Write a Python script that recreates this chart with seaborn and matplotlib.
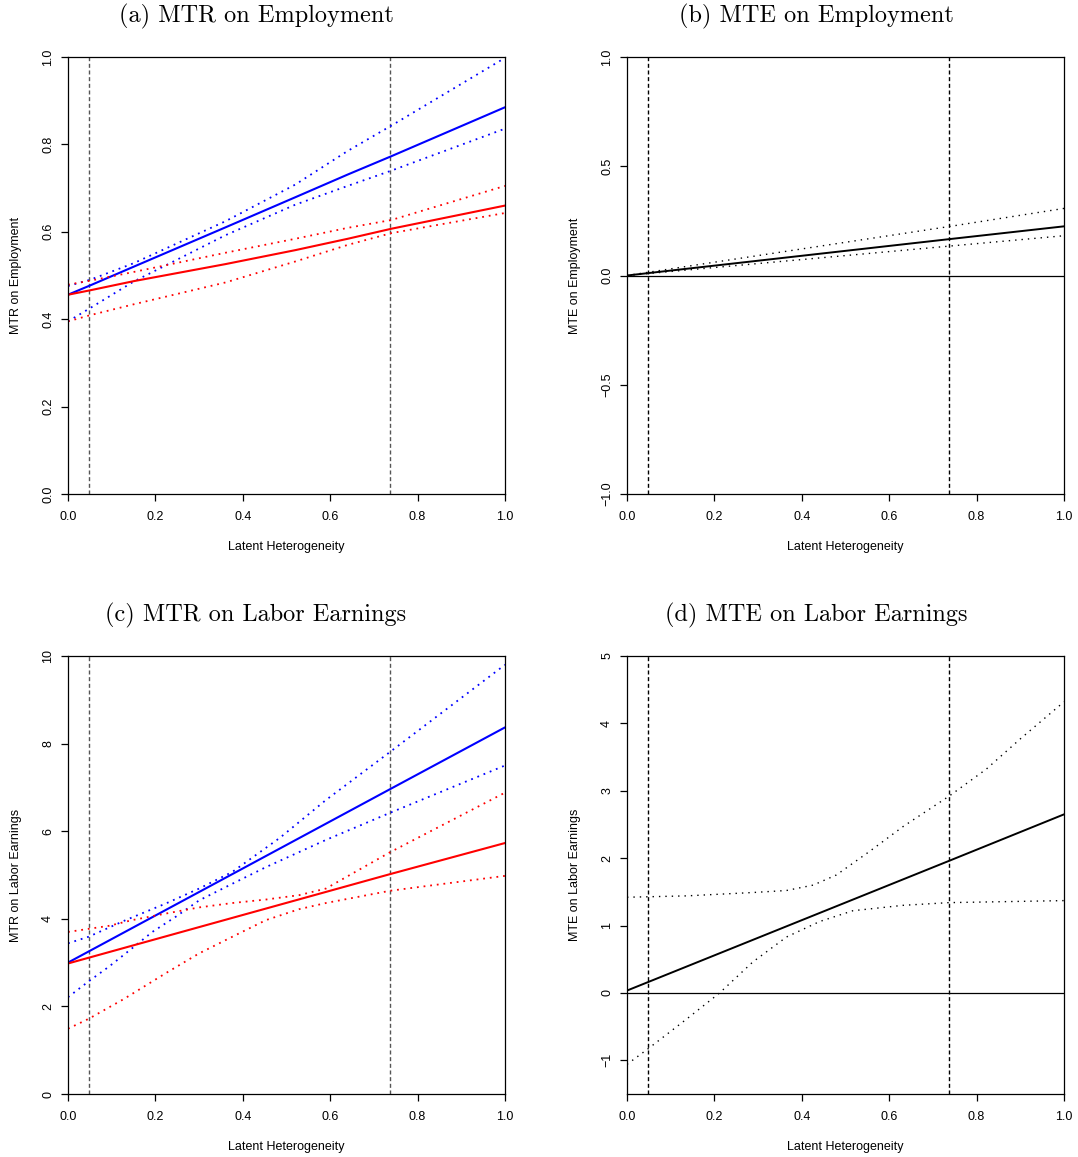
import matplotlib
matplotlib.use("Agg")
import matplotlib.pyplot as plt
import seaborn as sns

# Werte (Latent Heterogeneity u in [0, 1])
cutoffs = [0.048, 0.737]

# (a) MTR on Employment: blau = behandelt, rot = unbehandelt
emp_x = [0.0, 0.05, 0.15, 0.36, 0.52, 0.64, 0.74, 1.0]
emp_blue = [0.456, 0.477, 0.520, 0.610, 0.679, 0.731, 0.773, 0.885]
emp_blue_hi = [0.476, 0.490, 0.528, 0.624, 0.708, 0.785, 0.843, 0.998]
emp_blue_lo = [0.395, 0.425, 0.486, 0.592, 0.662, 0.705, 0.740, 0.836]
emp_red = [0.456, 0.466, 0.487, 0.526, 0.558, 0.584, 0.607, 0.660]
emp_red_hi = [0.479, 0.488, 0.508, 0.552, 0.584, 0.609, 0.627, 0.705]
emp_red_lo = [0.395, 0.409, 0.434, 0.484, 0.532, 0.570, 0.597, 0.643]

# (b) MTE on Employment
mte_emp_x = [0.0, 0.74, 1.0]
mte_emp = [0.0, 0.167, 0.225]
mte_emp_hi = [0.0, 0.225, 0.307]
mte_emp_lo = [0.0, 0.135, 0.182]

# (c) MTR on Labor Earnings
earn_blue_x = [0.0, 0.737, 1.0]
earn_blue = [3.0, 6.96, 8.37]
earn_blue_hi_x = [0.0, 0.047, 0.132, 0.224, 0.30, 0.376, 0.485, 0.59, 0.737, 1.0]
earn_blue_hi = [3.44, 3.59, 3.97, 4.35, 4.69, 5.07, 5.85, 6.71, 7.81, 9.80]
earn_blue_lo_x = [0.0, 0.047, 0.094, 0.147, 0.193, 0.247, 0.30, 0.376, 0.453, 0.59, 0.737, 1.0]
earn_blue_lo = [2.21, 2.57, 2.91, 3.33, 3.70, 4.05, 4.42, 4.80, 5.18, 5.80, 6.42, 7.50]
earn_red_x = [0.0, 0.737, 1.0]
earn_red = [2.98, 5.02, 5.73]
earn_red_hi_x = [0.0, 0.047, 0.094, 0.147, 0.224, 0.30, 0.376, 0.453, 0.529, 0.59, 0.737, 1.0]
earn_red_hi = [3.70, 3.77, 3.84, 3.97, 4.12, 4.26, 4.36, 4.44, 4.54, 4.69, 5.52, 6.88]
earn_red_lo_x = [0.0, 0.048, 0.128, 0.224, 0.30, 0.376, 0.453, 0.529, 0.59, 0.737, 1.0]
earn_red_lo = [1.49, 1.72, 2.17, 2.76, 3.21, 3.59, 3.97, 4.22, 4.36, 4.64, 4.98]

# (d) MTE on Labor Earnings
mte_earn_x = [0.0, 0.737, 1.0]
mte_earn = [0.035, 1.96, 2.65]
mte_earn_hi_x = [0.0, 0.136, 0.288, 0.365, 0.426, 0.479, 0.555, 0.632, 0.737, 0.822, 0.9, 1.0]
mte_earn_hi = [1.42, 1.44, 1.49, 1.52, 1.60, 1.75, 2.10, 2.47, 2.92, 3.32, 3.77, 4.32]
mte_earn_lo_x = [0.0, 0.048, 0.136, 0.212, 0.288, 0.365, 0.441, 0.517, 0.632, 0.737, 1.0]
mte_earn_lo = [-1.06, -0.83, -0.39, 0.0, 0.46, 0.83, 1.06, 1.22, 1.30, 1.34, 1.37]

# Achsenbeschriftungen
x_ticks = [0.0, 0.2, 0.4, 0.6, 0.8, 1.0]
x_ticklabels = ["0.0", "0.2", "0.4", "0.6", "0.8", "1.0"]
emp_yticks = [0.0, 0.2, 0.4, 0.6, 0.8, 1.0]
emp_yticklabels = ["0.0", "0.2", "0.4", "0.6", "0.8", "1.0"]
mte_emp_yticks = [-1.0, -0.5, 0.0, 0.5, 1.0]
mte_emp_yticklabels = ["\u22121.0", "\u22120.5", "0.0", "0.5", "1.0"]
earn_yticks = [0, 2, 4, 6, 8, 10]
earn_yticklabels = ["0", "2", "4", "6", "8", "10"]
mte_earn_yticks = [-1, 0, 1, 2, 3, 4, 5]
mte_earn_yticklabels = ["\u22121", "0", "1", "2", "3", "4", "5"]

titles = ["(a) MTR on Employment", "(b) MTE on Employment",
          "(c) MTR on Labor Earnings", "(d) MTE on Labor Earnings"]
ylabels = ["MTR on Employment", "MTE on Employment",
           "MTR on Labor Earnings", "MTE on Labor Earnings"]
xlabel = "Latent Heterogeneity"

sns.set_style("ticks")
plt.rcParams["font.family"] = ["Liberation Sans", "DejaVu Sans"]
plt.rcParams["text.color"] = "black"
plt.rcParams["axes.labelcolor"] = "black"
plt.rcParams["xtick.color"] = "black"
plt.rcParams["ytick.color"] = "black"

W, H = 1078, 1157
fig = plt.figure(figsize=(W / 100, H / 100), dpi=100)
fig.patch.set_facecolor("white")


def add_panel(left, top, right, bottom):
    return fig.add_axes([left / W, 1 - bottom / H, (right - left) / W, (bottom - top) / H])


ax_a = add_panel(68, 57, 505, 494)
ax_b = add_panel(627, 57, 1064, 494)
ax_c = add_panel(68, 656, 505, 1094)
ax_d = add_panel(627, 656, 1064, 1094)

dot = (0, (1, 2.7))
dot_k = (0, (1, 3.6))


def style_axes(ax, ylim, yticks, yticklabels, ylabel, dash_color):
    ax.set_xlim(0, 1)
    ax.set_ylim(*ylim)
    for c in cutoffs:
        ax.axvline(c, color=dash_color, lw=1.0, linestyle=(0, (2.9, 1.9)), zorder=1)
    ax.set_xticks(x_ticks, labels=x_ticklabels)
    ax.set_yticks(yticks, labels=yticklabels)
    ax.tick_params(axis="both", length=5, width=0.9, colors="black", labelsize=9, pad=7,
                   direction="out")
    ax.tick_params(axis="y", labelrotation=90, pad=5)
    for lab in ax.get_yticklabels():
        lab.set_va("center")
    for s in ax.spines.values():
        s.set_visible(True)
        s.set_color("black")
        s.set_linewidth(0.9)
    ax.set_xlabel(xlabel, fontsize=9, color="black")
    ax.set_ylabel(ylabel, fontsize=9, color="black")
    ax.xaxis.set_label_coords(0.5, -0.107)
    ax.yaxis.set_label_coords(-0.105, 0.5)
    ax.grid(False)


# (a)
sns.lineplot(x=emp_x, y=emp_blue, ax=ax_a, color="#0000FF", lw=1.5)
sns.lineplot(x=emp_x, y=emp_blue_hi, ax=ax_a, color="#0000FF", lw=1.3, linestyle=dot)
sns.lineplot(x=emp_x, y=emp_blue_lo, ax=ax_a, color="#0000FF", lw=1.3, linestyle=dot)
sns.lineplot(x=emp_x, y=emp_red, ax=ax_a, color="#FF0000", lw=1.5)
sns.lineplot(x=emp_x, y=emp_red_hi, ax=ax_a, color="#FF0000", lw=1.3, linestyle=dot)
sns.lineplot(x=emp_x, y=emp_red_lo, ax=ax_a, color="#FF0000", lw=1.3, linestyle=dot)
style_axes(ax_a, (0, 1), emp_yticks, emp_yticklabels, ylabels[0], "#555555")

# (b)
ax_b.axhline(0, color="black", lw=0.9, zorder=1)
sns.lineplot(x=mte_emp_x, y=mte_emp, ax=ax_b, color="black", lw=1.4)
sns.lineplot(x=mte_emp_x, y=mte_emp_hi, ax=ax_b, color="black", lw=1.0, linestyle=dot_k)
sns.lineplot(x=mte_emp_x, y=mte_emp_lo, ax=ax_b, color="black", lw=1.0, linestyle=dot_k)
style_axes(ax_b, (-1, 1), mte_emp_yticks, mte_emp_yticklabels, ylabels[1], "black")

# (c)
sns.lineplot(x=earn_blue_x, y=earn_blue, ax=ax_c, color="#0000FF", lw=1.5)
sns.lineplot(x=earn_blue_hi_x, y=earn_blue_hi, ax=ax_c, color="#0000FF", lw=1.3, linestyle=dot)
sns.lineplot(x=earn_blue_lo_x, y=earn_blue_lo, ax=ax_c, color="#0000FF", lw=1.3, linestyle=dot)
sns.lineplot(x=earn_red_x, y=earn_red, ax=ax_c, color="#FF0000", lw=1.5)
sns.lineplot(x=earn_red_hi_x, y=earn_red_hi, ax=ax_c, color="#FF0000", lw=1.3, linestyle=dot)
sns.lineplot(x=earn_red_lo_x, y=earn_red_lo, ax=ax_c, color="#FF0000", lw=1.3, linestyle=dot)
style_axes(ax_c, (0, 10), earn_yticks, earn_yticklabels, ylabels[2], "#555555")

# (d)
ax_d.axhline(0, color="black", lw=0.9, zorder=1)
sns.lineplot(x=mte_earn_x, y=mte_earn, ax=ax_d, color="black", lw=1.4)
sns.lineplot(x=mte_earn_hi_x, y=mte_earn_hi, ax=ax_d, color="black", lw=1.0, linestyle=dot_k)
sns.lineplot(x=mte_earn_lo_x, y=mte_earn_lo, ax=ax_d, color="black", lw=1.0, linestyle=dot_k)
style_axes(ax_d, (-1.5, 5), mte_earn_yticks, mte_earn_yticklabels, ylabels[3], "black")

# Titel der Teilabbildungen (LaTeX-artige Serifenschrift)
for (tx, ty), t in zip([(256, 16), (816, 16), (256, 615), (816, 615)], titles):
    fig.text(tx / W, 1 - ty / H, t, ha="center", va="center", fontsize=17.5,
             family=["cmr10", "DejaVu Serif"])

plt.savefig("out.png", dpi=100, facecolor="white")
